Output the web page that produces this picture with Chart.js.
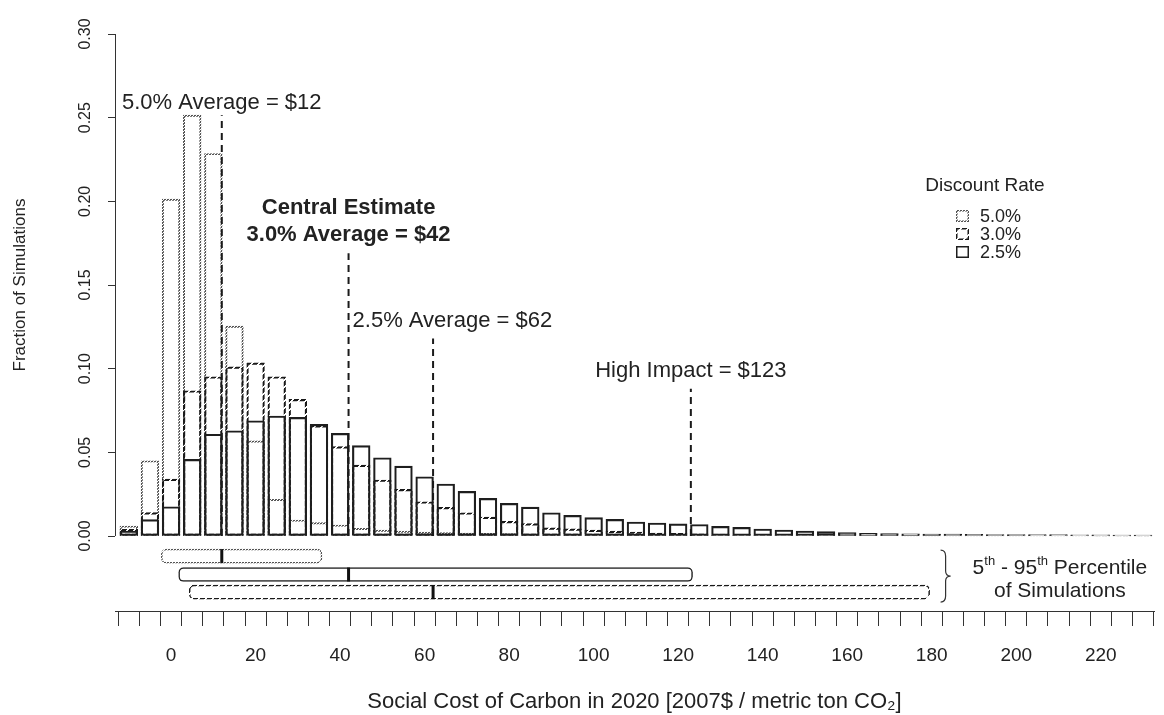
<!DOCTYPE html>
<html><head><meta charset="utf-8">
<script src="https://cdn.jsdelivr.net/npm/chart.js@4.4.1/dist/chart.umd.min.js"></script>
<style>html,body{margin:0;padding:0;background:#fff}#wrap{width:1164px;height:715px}</style>
</head><body><div id="wrap"><canvas id="c" width="1164" height="715"></canvas></div>
<script>
// ---------- data ----------
const binCenters = [-10,-5,0,5,10,15,20,25,30,35,40,45,50,55,60,65,70,75,80,85,90,95,100,105,110,115,120,125,130,135,140,145,150,155,160,165,170,175,180,185,190,195,200,205,210,215,220,225,230];
const share50 = [0.006,0.045,0.2013,0.2515,0.2286,0.1254,0.0569,0.0219,0.0096,0.0080,0.0066,0.0046,0.0036,0.0030,0.0024,0.0020,0.0018,0.0016,0.0014,0.0012,0.0010,0.0009,0.0008,0.0007,0.0006,0.0005,0.0005,0.0004,0.0004,0.0003,0.0003,0.0003,0.0002,0.0002,0.0002,0.0002,0.0002,0.0001,0.0001,0.0001,0.0001,0.0001,0.0001,0.0001,0.0001,0.0001,0.0001,0.0001,0.0001];
const share30 = [0.004,0.014,0.034,0.0868,0.0952,0.1011,0.1035,0.0952,0.0817,0.0660,0.0534,0.0424,0.0335,0.0279,0.0205,0.0171,0.0139,0.0113,0.0088,0.0074,0.0049,0.0043,0.0035,0.0029,0.0023,0.0018,0.0016,0.0013,0.0011,0.0010,0.0009,0.0008,0.0007,0.0006,0.0005,0.0005,0.0004,0.0004,0.0003,0.0003,0.0003,0.0002,0.0002,0.0002,0.0002,0.0002,0.0001,0.0001,0.0001];
const share25 = [0.003,0.0098,0.0175,0.0458,0.0608,0.0629,0.0689,0.0717,0.0709,0.0667,0.0613,0.0540,0.0468,0.0418,0.0354,0.0311,0.0267,0.0225,0.0195,0.0173,0.0139,0.0123,0.0110,0.0100,0.0084,0.0078,0.0073,0.0069,0.0058,0.0052,0.0042,0.0036,0.0030,0.0026,0.0020,0.0016,0.0015,0.0013,0.0012,0.0011,0.0010,0.0009,0.0009,0.0008,0.0008,0.0007,0.0007,0.0006,0.0006];
const seriesNames = ['5.0%','3.0%','2.5%'];
const yTickValues = [0,0.05,0.10,0.15,0.20,0.25,0.30];
const xLabelValues = [0,20,40,60,80,100,120,140,160,180,200,220];
const averageValues = [12,42,62,123];
const averageTops = [0.2515,0.169,0.118,0.088];
const averageTexts = ['5.0% Average = $12','3.0% Average = $42','2.5% Average = $62','High Impact = $123'];
const pct5 = [-2.3,1.8,4.3];
const pct95 = [35.7,123.4,179.5];
const pctMeans = [12,42,62];
const pctRows = [-0.012,-0.023,-0.0335];

// ---------- styling helpers ----------
const FONT = "'Liberation Sans', Arial, Helvetica, sans-serif";
Chart.defaults.font.family = FONT;
Chart.defaults.color = '#222';
function makePattern(period, on, color){
  const c = document.createElement('canvas'); c.width = period; c.height = period;
  const g = c.getContext('2d'); g.fillStyle = color;
  for (let i=0;i<period;i++) for (let j=0;j<period;j++) if ((i+j)%period < on) g.fillRect(i,j,1,1);
  return document.createElement('canvas').getContext('2d').createPattern(c,'repeat');
}
const dotted = makePattern(3,2,'#555');
const dashed = makePattern(7,5,'#1a1a1a');
const solid = '#1e1e1e';
const seriesBorders = [dotted, dashed, solid];

const X_MIN = -13.27, X_MAX = 232.6, Y_MIN = -0.0448, Y_MAX = 0.30;
const binEdgeTicks = binCenters.map(c => c - 2.5).concat([binCenters[binCenters.length-1] + 2.5]);

function histData(arr){ return binCenters.map((x,i)=>({x, y: arr[i]})); }
const avgLineData = [];
averageValues.forEach((v,i)=>{ avgLineData.push({x:v,y:0},{x:v,y:averageTops[i]},{x:v,y:null}); });

const histBase = {type:'bar', xAxisID:'x', yAxisID:'y', grouped:false, barThickness:17.7,
  backgroundColor:'rgba(0,0,0,0)', borderSkipped:false};

// ---------- decorations plugin (axis line, labels, legend) ----------
const decor = {
  id:'decor',
  afterDatasetsDraw(chart){
    const {ctx, chartArea} = chart;
    const xs = chart.scales.x, ys = chart.scales.y, ys2 = chart.scales.y2, xs2 = chart.scales.x2;
    const px = v => xs.getPixelForValue(v), py = v => ys.getPixelForValue(v);
    ctx.save();
    // y axis line (only 0 .. 0.30)
    ctx.strokeStyle = '#333'; ctx.lineWidth = 1;
    ctx.beginPath(); ctx.moveTo(chartArea.left+0.5, py(yTickValues[0])); ctx.lineTo(chartArea.left+0.5, py(yTickValues[yTickValues.length-1])); ctx.stroke();
    // y title
    ctx.fillStyle = '#222'; ctx.textBaseline = 'middle'; ctx.textAlign = 'center';
    ctx.save(); ctx.translate(20, (py(0)+py(0.30))/2); ctx.rotate(-Math.PI/2);
    ctx.font = `17px ${FONT}`; ctx.fillText('Fraction of Simulations', 0, 0); ctx.restore();
    // annotations
    ctx.font = `22px ${FONT}`;
    ctx.textAlign = 'center';
    ctx.fillText(averageTexts[0], px(averageValues[0]), py(averageTops[0]) - 12.5);
    ctx.font = `bold 22px ${FONT}`;
    ctx.fillText('Central Estimate', px(averageValues[1]), py(averageTops[1]) - 45);
    ctx.fillText(averageTexts[1], px(averageValues[1]), py(averageTops[1]) - 18);
    ctx.font = `22px ${FONT}`;
    ctx.textAlign = 'left';
    ctx.fillText(averageTexts[2], px(averageValues[1]) + 4, py(averageTops[2]) - 18);
    ctx.textAlign = 'center';
    ctx.fillText(averageTexts[3], px(averageValues[3]), py(averageTops[3]) - 18);
    // legend
    ctx.font = `19px ${FONT}`; ctx.textAlign = 'center';
    ctx.fillText('Discount Rate', 985, 186);
    ctx.font = `18px ${FONT}`; ctx.textAlign = 'left';
    seriesNames.forEach((n,i)=>{
      const yy = 216 + i*18;
      ctx.fillStyle = seriesBorders[i];
      ctx.fillRect(956, yy-6, 13, 12);
      ctx.fillStyle = '#fff'; ctx.fillRect(957.5, yy-4.5, 10, 9);
      ctx.fillStyle = '#222'; ctx.fillText(n, 980, yy+1);
    });
    // brace for percentile boxes
    const top = ys2.getPixelForValue(pctRows[0]) - 6, bot = ys2.getPixelForValue(pctRows[2]) + 10;
    const mid = (top+bot)/2, bx = xs2.getPixelForValue(pct95[2]) + 11;
    ctx.strokeStyle = '#333'; ctx.lineWidth = 1.2;
    ctx.beginPath();
    ctx.moveTo(bx, top);
    ctx.quadraticCurveTo(bx+5, top, bx+5, top+6);
    ctx.lineTo(bx+5, mid-5);
    ctx.quadraticCurveTo(bx+5, mid, bx+10, mid);
    ctx.quadraticCurveTo(bx+5, mid, bx+5, mid+5);
    ctx.lineTo(bx+5, bot-6);
    ctx.quadraticCurveTo(bx+5, bot, bx, bot);
    ctx.stroke();
    // percentile text with superscripts
    const big = `21px ${FONT}`, small = `13px ${FONT}`;
    const parts = [['5',big,0],['th',small,-7],[' - 95',big,0],['th',small,-7],[' Percentile',big,0]];
    let tx = bx + 32; const ty = (ys2.getPixelForValue(pctRows[0]) + ys2.getPixelForValue(pctRows[1]))/2 + 3;
    const x0 = tx;
    ctx.fillStyle = '#222'; ctx.textAlign = 'left';
    parts.forEach(([t,f,dy])=>{ ctx.font = f; ctx.fillText(t, tx, ty+dy); tx += ctx.measureText(t).width; });
    ctx.font = big; ctx.textAlign = 'center';
    ctx.fillText('of Simulations', (x0+tx)/2, ys2.getPixelForValue(pctRows[2]) - 1);
    ctx.restore();
  }
};

new Chart(document.getElementById('c'), {
  data: {
    datasets: [
      Object.assign({}, histBase, {label:seriesNames[0], data:histData(share50), borderColor:dotted, borderWidth:1.3, order:5}),
      Object.assign({}, histBase, {label:seriesNames[1], data:histData(share30), borderColor:dashed, borderWidth:1.5, order:4}),
      Object.assign({}, histBase, {label:seriesNames[2], data:histData(share25), borderColor:solid, borderWidth:1.5, order:3}),
      {type:'line', label:'averages', data:avgLineData, xAxisID:'x', yAxisID:'y', borderColor:'#1a1a1a', borderWidth:2,
        borderDash:[7,5], pointRadius:0, spanGaps:false, fill:false, order:1},
      {type:'bar', label:'5th-95th', indexAxis:'y', xAxisID:'x2', yAxisID:'y2', grouped:false,
        data: pctRows.map((r,i)=>({x:[pct5[i], pct95[i]], y:r})),
        barThickness:14, borderRadius:5, borderSkipped:false, borderWidth:1.5,
        borderColor:[dotted, solid, dashed], backgroundColor:'#fff', order:2},
      {type:'scatter', label:'means', xAxisID:'x2', yAxisID:'y2',
        data: pctMeans.map((m,i)=>({x:m, y:pctRows[i]})),
        pointStyle:'line', rotation:90, radius:7, pointRadius:7, borderWidth:3, borderColor:'#111', order:0}
    ]
  },
  options: {
    responsive:false, animation:false, devicePixelRatio:1,
    layout:{padding:{left:0, right:2, top:34, bottom:0}},
    plugins:{legend:{display:false}, tooltip:{enabled:false}},
    scales:{
      x:{type:'linear', position:'bottom', min:X_MIN, max:X_MAX, offset:false,
        afterBuildTicks(s){ const vals = binEdgeTicks.concat(xLabelValues).sort((a,b)=>a-b); s.ticks = vals.map(v=>({value:v})); },
        afterFit(s){ s.height = 104; s.paddingLeft = 0; s.paddingRight = 0; },
        grid:{offset:false, drawOnChartArea:false, drawTicks:true, tickLength:15, lineWidth:1,
          tickColor: ctx => (ctx.tick && binEdgeTicks.includes(ctx.tick.value)) ? '#333' : 'rgba(0,0,0,0)'},
        border:{display:true, color:'#333', width:1},
        ticks:{autoSkip:false, maxRotation:0, minRotation:0, padding:18, font:{size:19}, color:'#222',
          callback: v => xLabelValues.includes(v) ? String(v) : ''},
        title:{display:true, text:'Social Cost of Carbon in 2020 [2007$ / metric ton CO\u2082]', font:{size:22}, color:'#222', padding:{top:0,bottom:0}}
      },
      y:{type:'linear', position:'left', min:Y_MIN, max:Y_MAX, offset:false,
        afterBuildTicks(s){ s.ticks = yTickValues.map(v=>({value:v})); },
        afterFit(s){ s.width = 115; },
        grid:{offset:false, drawOnChartArea:false, drawTicks:true, tickLength:7, color:'#333'},
        border:{display:false},
        ticks:{minRotation:90, maxRotation:90, crossAlign:'center', padding:7, font:{size:16}, color:'#222',
          callback: v => v.toFixed(2)}
      },
      x2:{type:'linear', display:false, min:X_MIN, max:X_MAX, offset:false, grid:{offset:false}},
      y2:{type:'linear', display:false, min:Y_MIN, max:Y_MAX, offset:false, grid:{offset:false}}
    }
  },
  plugins:[decor]
});
</script></body></html>
